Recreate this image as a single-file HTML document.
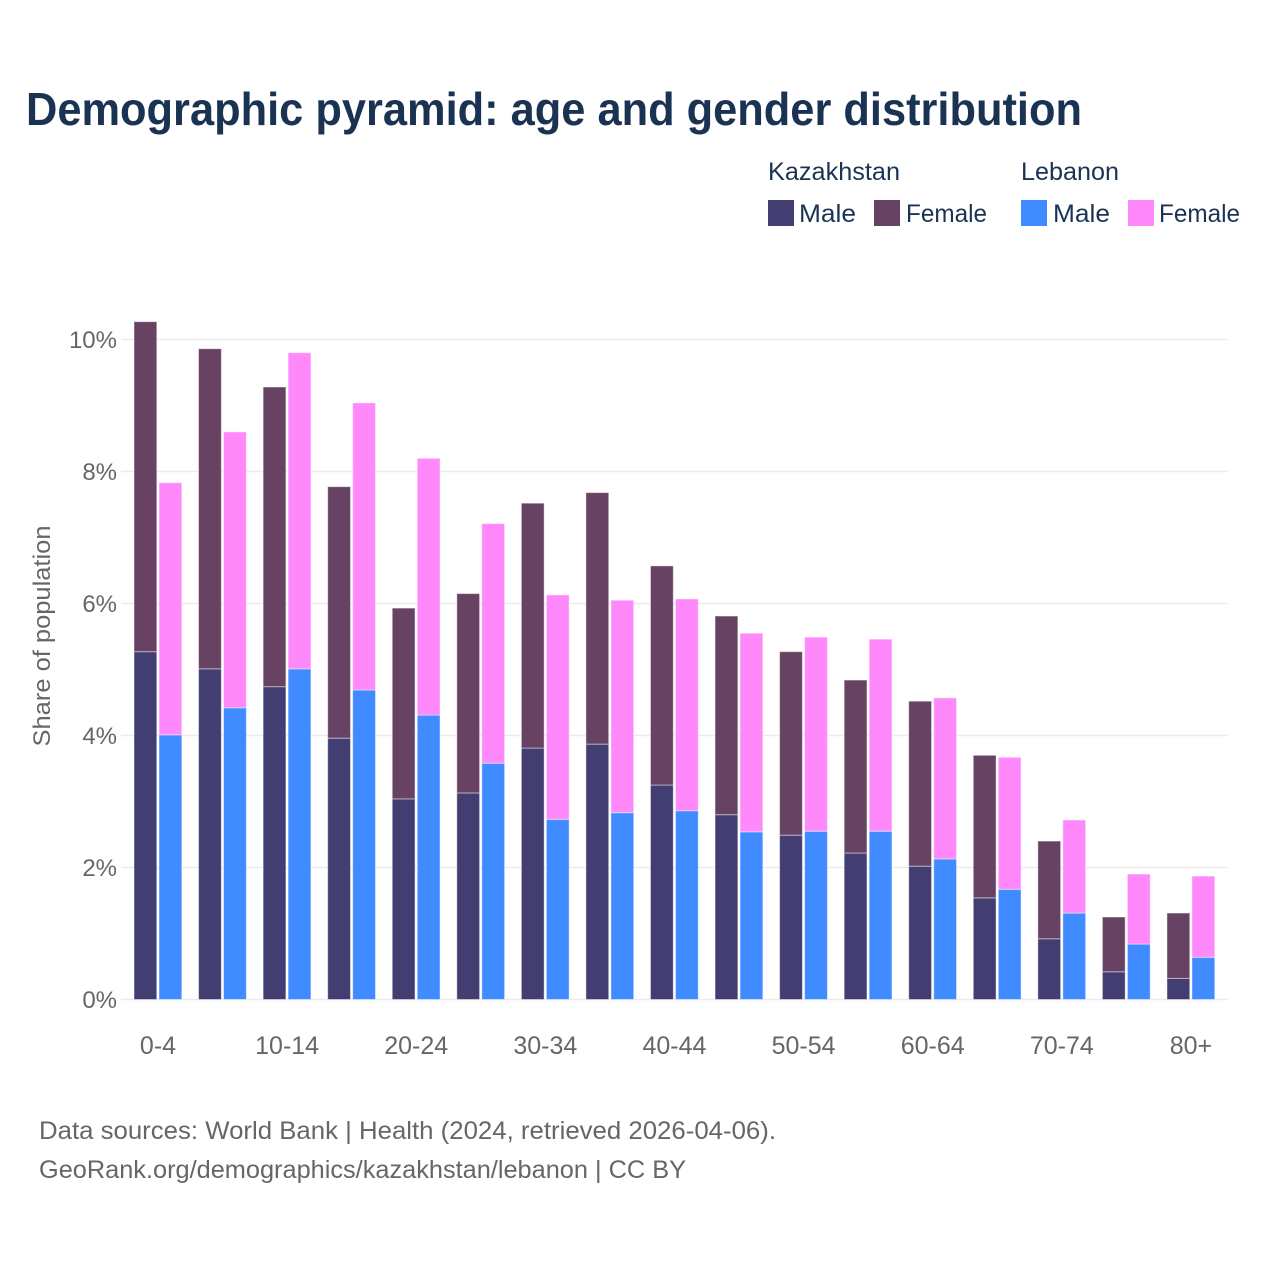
<!DOCTYPE html>
<html lang="en">
<head>
<meta charset="utf-8">
<title>Demographic pyramid: age and gender distribution</title>
<style>
html,body{margin:0;padding:0;background:#fff}
svg{display:block}
text{font-family:"Liberation Sans",sans-serif}
</style>
</head>
<body>
<svg id="chart" width="1280" height="1280" viewBox="0 0 1280 1280" xmlns="http://www.w3.org/2000/svg">
<rect width="1280" height="1280" fill="#ffffff"/>
<text x="26" y="125" font-size="46" font-weight="700" fill="#1a3353" textLength="1056" lengthAdjust="spacingAndGlyphs">Demographic pyramid: age and gender distribution</text>

<g font-size="25" fill="#1a3353">
<text x="768" y="180" textLength="132" lengthAdjust="spacingAndGlyphs">Kazakhstan</text>
<text x="1021" y="180" textLength="98" lengthAdjust="spacingAndGlyphs">Lebanon</text>
<rect x="768" y="200" width="26" height="26" fill="#423e72"/>
<text x="799" y="222" textLength="57" lengthAdjust="spacingAndGlyphs">Male</text>
<rect x="874" y="200" width="26" height="26" fill="#674262"/>
<text x="906" y="222" textLength="81" lengthAdjust="spacingAndGlyphs">Female</text>
<rect x="1021" y="200" width="26" height="26" fill="#3f8bff"/>
<text x="1053" y="222" textLength="57" lengthAdjust="spacingAndGlyphs">Male</text>
<rect x="1128" y="200" width="26" height="26" fill="#ff88fb"/>
<text x="1159" y="222" textLength="81" lengthAdjust="spacingAndGlyphs">Female</text>
</g>

<g id="grid"></g>
<g id="yticks" font-size="24" fill="#666666" text-anchor="end"></g>
<g id="bars"></g>
<g id="xticks" font-size="25" fill="#666666" text-anchor="middle"></g>

<text transform="translate(50,636) rotate(-90)" font-size="24" fill="#666666" text-anchor="middle" textLength="221" lengthAdjust="spacingAndGlyphs">Share of population</text>

<text x="39" y="1139" font-size="25" fill="#666666" textLength="737" lengthAdjust="spacingAndGlyphs">Data sources: World Bank | Health (2024, retrieved 2026-04-06).</text>
<text x="39" y="1178" font-size="25" fill="#666666" textLength="647" lengthAdjust="spacingAndGlyphs">GeoRank.org/demographics/kazakhstan/lebanon | CC BY</text>
</svg>
<script>
var ageGroups = ['0-4','5-9','10-14','15-19','20-24','25-29','30-34','35-39','40-44','45-49','50-54','55-59','60-64','65-69','70-74','75-79','80+'];
var kazakhstanMale = [5.27,5.01,4.74,3.96,3.04,3.13,3.81,3.87,3.25,2.80,2.49,2.22,2.02,1.54,0.92,0.42,0.32];
var kazakhstanFemale = [5.00,4.85,4.54,3.81,2.89,3.02,3.71,3.81,3.32,3.01,2.78,2.62,2.50,2.16,1.48,0.83,0.99];
var lebanonMale = [4.01,4.42,5.01,4.69,4.31,3.58,2.73,2.83,2.86,2.54,2.55,2.55,2.13,1.67,1.31,0.84,0.64];
var lebanonFemale = [3.82,4.18,4.79,4.35,3.89,3.63,3.40,3.22,3.21,3.01,2.94,2.91,2.44,2.00,1.41,1.06,1.23];
var yTickValues = [0,2,4,6,8,10];
var xTickLabels = ['0-4','10-14','20-24','30-34','40-44','50-54','60-64','70-74','80+'];

var NS = 'http://www.w3.org/2000/svg';
function yScale(v){ return 999.5 - v * 66; }
function xScale(i){ return 158 + i * 64.56; }
function make(tag, attrs, parent){
  var el = document.createElementNS(NS, tag);
  for (var k in attrs) el.setAttribute(k, attrs[k]);
  parent.appendChild(el);
  return el;
}
var grid = document.getElementById('grid');
var yticks = document.getElementById('yticks');
var xticks = document.getElementById('xticks');
var bars = document.getElementById('bars');

yTickValues.forEach(function(v){
  var line = make('line', {x1:121, x2:1228, y1:yScale(v), y2:yScale(v), stroke:'#ebebeb', 'stroke-width':1.5}, grid);
  
  
  var t = make('text', {x:117, y:yScale(v)+8.5}, yticks);
  
  
  t.textContent = v + '%';
});

xTickLabels.forEach(function(label){
  var i = ageGroups.indexOf(label);
  var t = make('text', {x:xScale(i), y:1054}, xticks);
  
  
  t.textContent = label;
});

function bar(x, v0, v1, fill, name){
  var r = make('rect', {x:x, y:yScale(v1), width:22.8, height:yScale(v0)-yScale(v1), fill:fill, stroke:'#ffffff', 'stroke-opacity':0.45, 'stroke-width':1}, bars);
  
  
}
ageGroups.forEach(function(group, i){
  var c = xScale(i);
  bar(c-24, 0, kazakhstanMale[i], '#423e72', 'bar-kazakhstan-male');
  bar(c-24, kazakhstanMale[i], kazakhstanMale[i]+kazakhstanFemale[i], '#674262', 'bar-kazakhstan-female');
  bar(c+1, 0, lebanonMale[i], '#3f8bff', 'bar-lebanon-male');
  bar(c+1, lebanonMale[i], lebanonMale[i]+lebanonFemale[i], '#ff88fb', 'bar-lebanon-female');
});
</script>
</body>
</html>
